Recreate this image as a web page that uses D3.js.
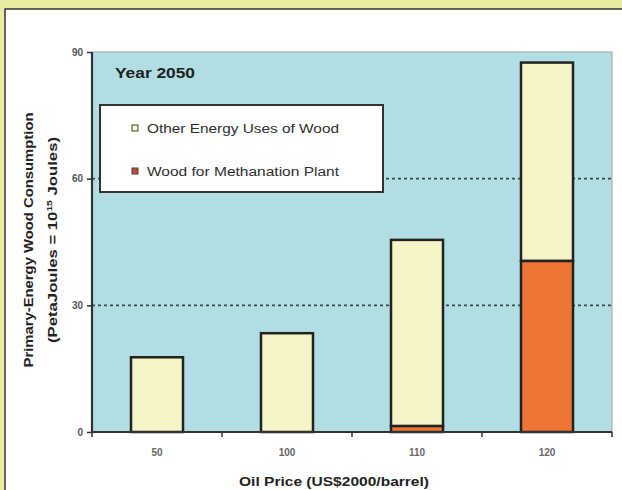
<!DOCTYPE html>
<html>
<head>
<meta charset="utf-8">
<script src="https://cdn.jsdelivr.net/npm/d3@7"></script>
<style>
  html, body { margin: 0; padding: 0; background: #e7eca2; }
  svg { display: block; }
  text { font-family: Arial, "Liberation Sans", sans-serif; }
</style>
</head>
<body>
<svg id="chart" width="622" height="490"></svg>
<script>
// Oil price scenarios (US$2000/barrel)
const categories = ["50", "100", "110", "120"];
// Wood used by the methanation plant (PJ)
const methanation = [0, 0, 1.4, 40.5];
// Other energy uses of wood (PJ)
const otherUses = [17.7, 23.4, 44.1, 47.0];
// Y axis ticks
const yTicks = [0, 30, 60, 90];
const gridTicks = [30, 60];
const seriesNames = ["Other Energy Uses of Wood", "Wood for Methanation Plant"];
const seriesColors = ["#f5f4c6", "#ef7535"];
const legendSwatches = ["#f5f4c6", "#c8453a"];

const svg = d3.select("#chart");

// white card with dark frame on top/left
svg.append("rect").attr("x", 5).attr("y", 9).attr("width", 640).attr("height", 500)
  .attr("fill", "#ffffff").attr("stroke", "#333").attr("stroke-width", 1.5);

const plot = { left: 92, right: 612, top: 52, bottom: 432 };

const x = d3.scaleBand().domain(categories)
  .range([plot.left, plot.right]).paddingInner(0.6).paddingOuter(0.3);
const y = d3.scaleLinear().domain([0, 90]).range([plot.bottom, plot.top]);

// plot background
svg.append("rect").attr("x", plot.left).attr("y", plot.top)
  .attr("width", plot.right - plot.left).attr("height", plot.bottom - plot.top)
  .attr("fill", "#b0dee2").attr("stroke", "#a3b0b2").attr("stroke-width", 1.2);

// dashed gridlines
svg.append("g").selectAll("line").data(gridTicks).join("line")
  .attr("x1", plot.left).attr("x2", plot.right)
  .attr("y1", d => y(d)).attr("y2", d => y(d))
  .attr("stroke", "#3c4a4c").attr("stroke-width", 1.6).attr("stroke-dasharray", "3,3");

// stacked bars
const stacked = categories.map((c, i) => ({ c, m: methanation[i], o: otherUses[i] }));
const bars = svg.append("g");
bars.selectAll("rect.o").data(stacked).join("rect").attr("class", "o")
  .attr("x", d => x(d.c)).attr("width", x.bandwidth())
  .attr("y", d => y(d.m + d.o)).attr("height", d => y(d.m) - y(d.m + d.o))
  .attr("fill", seriesColors[0]).attr("stroke", "#222").attr("stroke-width", 2.5);
bars.selectAll("rect.m").data(stacked.filter(d => d.m > 0)).join("rect").attr("class", "m")
  .attr("x", d => x(d.c)).attr("width", x.bandwidth())
  .attr("y", d => y(d.m)).attr("height", d => y(0) - y(d.m))
  .attr("fill", seriesColors[1]).attr("stroke", "#222").attr("stroke-width", 2.5);

// axes lines
svg.append("line").attr("x1", plot.left).attr("x2", plot.left)
  .attr("y1", plot.top).attr("y2", plot.bottom + 1)
  .attr("stroke", "#333").attr("stroke-width", 2.2);
svg.append("line").attr("x1", plot.left - 1).attr("x2", plot.right)
  .attr("y1", plot.bottom).attr("y2", plot.bottom)
  .attr("stroke", "#333").attr("stroke-width", 2.2);

// y axis
const yAxis = svg.append("g").attr("transform", `translate(${plot.left},0)`)
  .call(d3.axisLeft(y).tickValues(yTicks).tickSize(5).tickPadding(4));
yAxis.select(".domain").remove();
yAxis.selectAll(".tick line").attr("stroke", "#333").attr("stroke-width", 1.5);
yAxis.selectAll(".tick text").attr("font-size", 10).attr("font-weight", "bold")
  .attr("fill", "#555").attr("font-family", "Arial, 'Liberation Sans', sans-serif");

// x axis: category labels centred, ticks on the band boundaries
const xAxis = svg.append("g").attr("transform", `translate(0,${plot.bottom})`)
  .call(d3.axisBottom(x).tickSize(0).tickPadding(17));
xAxis.select(".domain").remove();
xAxis.selectAll(".tick text").attr("font-size", 10).attr("font-weight", "bold").attr("fill", "#666")
  .attr("font-family", "Arial, 'Liberation Sans', sans-serif");
const bounds = d3.range(categories.length + 1).map(i => plot.left + i * x.step());
svg.append("g").selectAll("line").data(bounds).join("line")
  .attr("x1", d => d).attr("x2", d => d)
  .attr("y1", plot.bottom).attr("y2", plot.bottom + 5)
  .attr("stroke", "#333").attr("stroke-width", 1.5);

// year label
svg.append("text").attr("x", 115).attr("y", 78)
  .attr("font-size", 14).attr("font-weight", "bold").attr("fill", "#222")
  .attr("textLength", 80).attr("lengthAdjust", "spacingAndGlyphs")
  .text("Year 2050");

// legend
const legend = svg.append("g");
legend.append("rect").attr("x", 100).attr("y", 105).attr("width", 283).attr("height", 87)
  .attr("fill", "#ffffff").attr("stroke", "#333").attr("stroke-width", 2);
const legendRows = [128, 171];
seriesNames.forEach((name, i) => {
  legend.append("rect").attr("x", 132).attr("y", legendRows[i] - 3).attr("width", 6).attr("height", 6)
    .attr("fill", legendSwatches[i]).attr("stroke", "#444").attr("stroke-width", 1);
  legend.append("text").attr("x", 147).attr("y", legendRows[i] + 4.5)
    .attr("font-size", 12.5).attr("fill", "#2e2e2e")
    .attr("textLength", 192).attr("lengthAdjust", "spacingAndGlyphs")
    .text(name);
});

// axis titles
svg.append("text").attr("x", 334).attr("y", 486).attr("text-anchor", "middle")
  .attr("font-size", 12.5).attr("font-weight", "bold").attr("fill", "#222")
  .attr("textLength", 190).attr("lengthAdjust", "spacingAndGlyphs")
  .text("Oil Price (US$2000/barrel)");

const yTitle = svg.append("g").attr("transform", "translate(0,240) rotate(-90)");
yTitle.append("text").attr("x", 0).attr("y", 33).attr("text-anchor", "middle")
  .attr("font-size", 13).attr("font-weight", "bold").attr("fill", "#222")
  .attr("textLength", 255).attr("lengthAdjust", "spacingAndGlyphs")
  .text("Primary-Energy Wood Consumption");
const t2 = yTitle.append("text").attr("x", 0).attr("y", 57).attr("text-anchor", "middle")
  .attr("font-size", 13).attr("font-weight", "bold").attr("fill", "#222")
  .attr("textLength", 206).attr("lengthAdjust", "spacingAndGlyphs");
t2.append("tspan").text("(PetaJoules = 10");
t2.append("tspan").attr("font-size", 8).attr("dy", -5).text("15");
t2.append("tspan").attr("dy", 5).text(" Joules)");
</script>
</body>
</html>
